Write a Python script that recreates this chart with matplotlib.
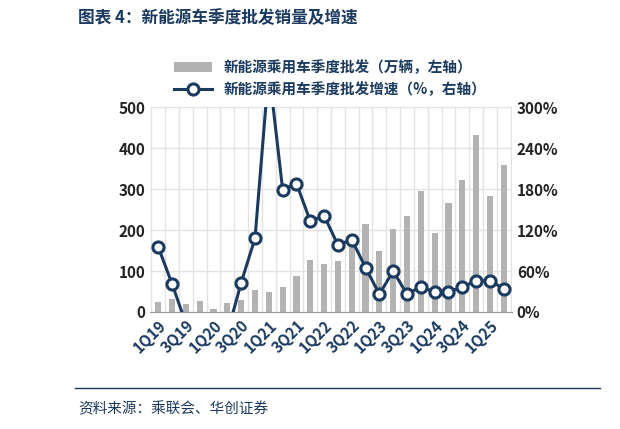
import matplotlib
matplotlib.use("Agg")
import matplotlib.pyplot as plt
import numpy as np

plt.rcParams['font.family'] = ['Noto Sans CJK SC', 'DejaVu Sans']

quarters = [f"{q}Q{y}" for y in range(19, 26) for q in range(1, 5)][:26]
sales = [24, 31, 20, 26, 8, 21, 29, 54, 48, 62, 89, 128, 117, 125, 170, 214,
         149, 203, 235, 294, 193, 265, 322, 431, 283, 358]
growth = [95, 41, -17, -40, -60, -31, 43, 108, 355, 179, 188, 133, 141, 98, 106, 65,
          26, 60, 26, 37, 29, 30, 36, 46, 46, 34]

navy = '#1b3a5f'
W, H = 620, 429
fig = plt.figure(figsize=(W/100, H/100), dpi=100)
ax = fig.add_axes([150/W, 1-312/H, 362/W, 205/H])
x = np.arange(len(quarters))
ax.bar(x, sales, width=0.45, color='#b3b3b3', zorder=2, label='新能源乘用车季度批发（万辆，左轴）')
ax.set_xlim(-0.6, len(x)-0.4)
ax.set_ylim(0, 500)
ax.set_yticks(range(0, 501, 100))
ax.set_xticks(x[::2])
ax.set_xticklabels(quarters[::2], rotation=45, ha='right', rotation_mode='anchor',
                   color=navy, fontweight='bold', fontsize=10.5)
for xi in x:
    ax.axvline(xi + 0.5, color='#e3e3e3', lw=1, zorder=0)
ax.axvline(-0.5, color='#e3e3e3', lw=1, zorder=0)
ax.yaxis.grid(True, color='#e3e3e3', lw=1, zorder=0)
for s in ['top', 'right', 'left']:
    ax.spines[s].set_visible(False)
ax.spines['bottom'].set_color('#999999')
ax.tick_params(length=0, labelsize=11)
for t in ax.get_yticklabels():
    t.set_fontweight('bold'); t.set_color('#222222')

ax2 = ax.twinx()
ax2.plot(x, growth, color=navy, lw=2.2, marker='o', ms=8, mfc='white', mec=navy, mew=2.2,
         zorder=3, label='新能源乘用车季度批发增速（%，右轴）')
ax2.set_ylim(0, 300)
ax2.set_yticks(range(0, 301, 60))
ax2.set_yticklabels([f"{v}%" for v in range(0, 301, 60)])
for s in ax2.spines.values():
    s.set_visible(False)
ax2.tick_params(length=0, labelsize=11)
for t in ax2.get_yticklabels():
    t.set_fontweight('bold'); t.set_color('#222222')

h1, l1 = ax.get_legend_handles_labels()
h2, l2 = ax2.get_legend_handles_labels()
fig.legend(h1 + h2, l1 + l2, loc='center', bbox_to_anchor=(330/W, 1-78/H), ncol=1,
           frameon=False, prop={'weight': 'bold', 'size': 10.5}, labelcolor=navy,
           handlelength=2.6, borderpad=0, labelspacing=0.4)

fig.text(78/W, 1-18/H, '图表 4：新能源车季度批发销量及增速', color=navy, fontsize=12,
         fontweight='bold', va='center')
fig.add_artist(plt.Line2D([75/W, 600/W], [1-388/H, 1-388/H], color=navy, lw=1))
fig.text(78/W, 1-409/H, '资料来源：乘联会、华创证券', color=navy, fontsize=10.5,
         style='italic', va='center')
fig.savefig('out.png', dpi=100)
